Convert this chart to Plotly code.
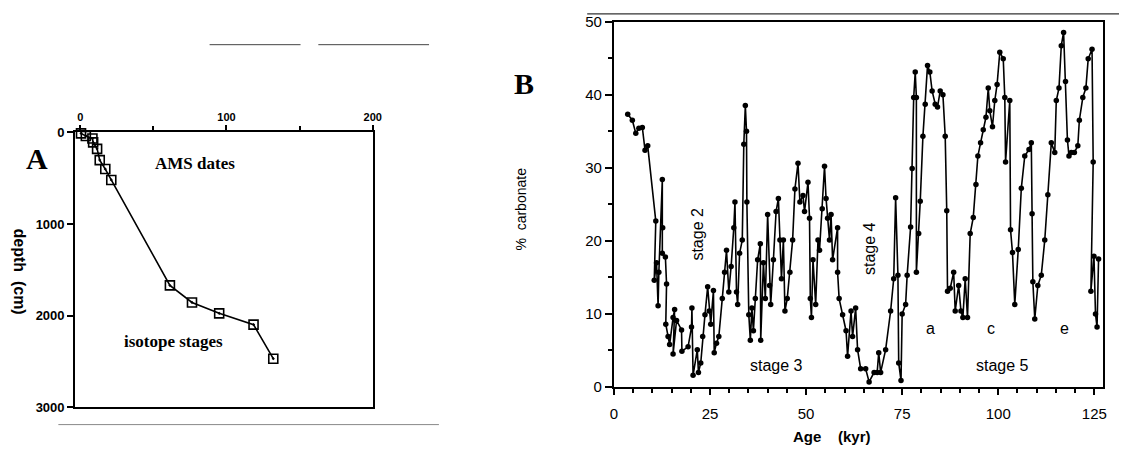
import plotly.graph_objects as go

W, H = 1128, 476

# ---------------- Panel A data: age (kyr) vs depth (cm) ----------------
age_A = [0.5, 3.8, 8.3, 8.8, 11.5, 13.3, 17.1, 21.2, 61.3, 76.4, 95.0, 118.5, 132.0]
depth_A = [10, 39, 67, 109, 179, 302, 400, 519, 1670, 1856, 1975, 2098, 2470]
xticks_A = [0, 100, 200]
yticks_A = [0, 1000, 2000, 3000]

# ---------------- Panel B data: age (kyr) vs % carbonate ----------------
age_B = [3.6, 4.8, 5.7, 6.5, 7.4, 8.1, 8.8, 10.9, 10.5, 11.1, 11.5, 11.7, 12.6, 12.7, 12.6, 13.4,
         13.7, 13.5, 14.1, 14.5, 15.4, 15.8, 15.4, 16.3, 17.6, 17.7, 19.3, 20.2, 20.3, 20.6,
         21.7, 22.0,
         22.6, 23.1, 23.7, 24.4, 24.8, 25.2, 25.9, 26.1, 26.7, 27.3,
         28.2, 28.8, 29.3, 29.9, 30.5, 31.2, 31.5, 31.9, 32.2, 32.7,
         33.4, 33.8, 34.2, 34.5, 34.6, 35.1, 35.5, 35.9, 36.3, 36.8,
         37.4, 38.1, 38.2, 38.9, 39.4, 40.0, 40.5, 40.8, 41.5, 42.2,
         42.8, 43.2, 43.6, 44.1, 44.5, 45.1, 45.8, 46.5, 47.1, 47.9,
         48.4, 49.2, 49.6, 50.5, 50.9, 51.1, 51.4, 51.8, 52.5, 53.1,
         53.5, 54.2, 54.8, 55.2, 55.6, 56.1, 56.5, 56.9, 58.2, 58.2,
         58.6, 59.5, 60.4, 60.8, 61.7, 62.1, 62.9, 63.4, 64.2, 65.5,
         66.4, 67.7, 68.5, 68.9, 69.4, 70.7,
         72.0, 72.8, 73.3, 73.9, 74.1, 74.7, 75.0, 75.9, 76.3, 77.2, 77.6, 78.0,
         78.4, 78.7, 78.7, 79.3, 79.7, 80.4, 81.0, 81.6, 82.2, 82.8, 83.6, 84.2, 84.9, 85.6,
         86.2, 86.6, 86.8, 87.5, 88.4, 88.8, 89.7, 90.3, 90.8, 91.4, 92.0, 92.7, 93.5, 94.2,
         94.7, 95.4, 96.1, 96.8, 97.4, 97.8, 98.5, 99.1, 99.7, 100.4, 101.3, 101.7, 101.9,
         103.0, 103.2, 103.7, 104.3, 105.2, 106.0, 106.9, 108.0, 108.6, 108.8, 109.0, 109.5,
         110.3, 111.2, 112.1, 112.9, 113.8, 114.7, 115.1, 115.8, 116.4, 117.0, 117.5, 118.0,
         118.4, 119.0, 119.8, 120.7, 121.1, 122.0, 122.8, 123.4, 124.4, 124.7, 124.1, 124.9,
         125.3, 125.7, 126.1]
carb_B = [37.3, 36.5, 34.7, 35.4, 35.5, 32.4, 33.0, 22.7, 14.6, 17.0, 11.1, 15.7, 28.4, 21.8, 18.3, 17.8,
          14.1, 8.6, 6.9, 5.8, 9.5, 10.6, 4.5, 9.1, 7.8, 4.9, 5.5, 8.2, 10.8, 1.6,
          5.1, 2.0,
          3.3, 6.9, 9.9, 13.7, 10.4, 8.6, 13.2, 4.7, 6.0, 6.9,
          12.1, 15.7, 18.7, 13.0, 16.5, 21.8, 25.3, 13.0, 11.3, 18.3,
          20.1, 33.2, 38.5, 35.0, 25.3, 9.9, 6.4, 10.8, 7.7, 12.1,
          17.4, 19.6, 6.4, 17.0, 12.1, 23.6, 13.9, 11.3, 17.4, 24.0,
          25.8, 20.1, 14.8, 20.1, 10.4, 12.1, 15.7, 20.1, 27.1, 30.6,
          25.3, 26.2, 24.0, 28.0, 23.1, 12.1, 9.5, 17.4, 11.3, 20.1,
          18.7, 24.4, 30.2, 25.8, 23.1, 20.1, 23.6, 17.4, 21.8, 15.7,
          12.1, 9.9, 7.7, 4.2, 10.4, 6.9, 10.8, 5.1, 2.5, 2.5,
          0.7, 2.0, 2.0, 4.7, 2.0, 5.1,
          10.4, 14.8, 25.9, 15.3, 3.3, 0.9, 10.0, 11.3, 15.3, 21.9, 29.9, 39.6,
          43.1, 39.6, 15.7, 21.0, 25.4, 34.3, 38.7, 44.0, 43.1, 40.5, 38.7, 38.3, 40.5, 40.0,
          34.3, 24.1, 13.1, 13.5, 15.7, 10.4, 13.9, 10.4, 9.5, 14.8, 9.5, 21.0, 23.2, 27.7,
          31.6, 33.4, 35.2, 36.9, 40.9, 37.8, 35.6, 39.2, 41.4, 45.8, 44.9, 39.6, 30.8,
          39.2, 21.5, 18.4, 11.3, 18.8, 27.2, 31.6, 32.5, 33.4, 23.7, 14.4, 9.3,
          13.9, 15.3, 20.1, 26.3, 33.4, 32.1, 39.2, 40.9, 46.7, 48.5, 41.8, 33.8,
          31.6, 32.1, 32.1, 33.0, 36.5, 39.6, 40.9, 44.9, 46.2, 30.8, 13.1, 17.9,
          10.0, 8.2, 17.5]
xticks_B = [0, 25, 50, 75, 100, 125]
yticks_B = [0, 10, 20, 30, 40, 50]


def px(x):
    return x / W


def py(y):
    return 1 - y / H


fig = go.Figure()

fig.add_trace(go.Scatter(
    x=age_A, y=depth_A, mode="lines+markers", xaxis="x", yaxis="y",
    line=dict(color="black", width=1.6),
    marker=dict(symbol="square-open-dot", size=9, color="black", line=dict(width=1.6)),
    showlegend=False, cliponaxis=False))

fig.add_trace(go.Scatter(
    x=age_B, y=carb_B, mode="lines+markers", xaxis="x2", yaxis="y2",
    line=dict(color="black", width=1.6),
    marker=dict(symbol="circle", size=5.5, color="black"),
    showlegend=False, cliponaxis=False))

axis_common = dict(showgrid=False, zeroline=False, showline=True, linecolor="black",
                   mirror=True, ticks="outside", tickcolor="black")

fig.update_layout(
    width=W, height=H, autosize=False,
    margin=dict(l=0, r=0, t=0, b=0),
    paper_bgcolor="white", plot_bgcolor="white",
    xaxis=dict(axis_common, domain=[px(72), px(373)], range=[-3.5, 200], side="top",
               anchor="y", tickvals=xticks_A, linewidth=2, ticklen=5, tickwidth=1.5,
               tickfont=dict(family="Liberation Sans", size=11, color="black", weight="bold"),
               minor=dict(tickvals=[50, 150], ticklen=4, ticks="outside", tickcolor="black")),
    yaxis=dict(axis_common, domain=[py(413), py(128)], range=[3000, 0], anchor="x",
               tickvals=yticks_A, linewidth=2, ticklen=6, tickwidth=1.5,
               tickfont=dict(family="Liberation Sans", size=13, color="black", weight="bold")),
    xaxis2=dict(axis_common, domain=[px(617), px(1112)], range=[0, 127.3], anchor="y2",
                tickvals=xticks_B, linewidth=2, ticklen=6, tickwidth=1.5, ticklabelstandoff=6,
                tickfont=dict(family="Liberation Sans", size=15, color="black"),
                minor=dict(dtick=5, ticklen=4, ticks="outside", tickcolor="black")),
    yaxis2=dict(axis_common, domain=[py(392), py(13)], range=[0, 50], anchor="x2",
                tickvals=yticks_B, linewidth=2, ticklen=7, tickwidth=1.5,
                tickfont=dict(family="Liberation Sans", size=15, color="black"),
                minor=dict(dtick=5, ticklen=4, ticks="outside", tickcolor="black")),
)

serif_b = dict(family="Liberation Serif", color="black", weight="bold")
sans = dict(family="Liberation Sans", color="black")

ann = [
    dict(text="A", x=px(33), y=py(155), font=dict(serif_b, size=30)),
    dict(text="B", x=px(526), y=py(77), font=dict(serif_b, size=30)),
    dict(text="AMS dates", x=px(193), y=py(160), font=dict(serif_b, size=17)),
    dict(text="isotope stages", x=px(171), y=py(345), font=dict(serif_b, size=17)),
    dict(text="depth\u00a0\u00a0(cm)", x=px(16), y=py(272), textangle=90,
         font=dict(family="Liberation Sans", color="black", weight="bold", size=16)),
    dict(text="%\u00a0\u00a0carbonate", x=px(523), y=py(207), textangle=-90, font=dict(sans, size=14)),
    dict(text="Age\u00a0\u00a0\u00a0\u00a0(kyr)", x=px(838), y=py(443),
         font=dict(family="Liberation Sans", color="black", weight="bold", size=15)),
    dict(text="stage 2", x=px(702), y=py(233), textangle=-90, font=dict(sans, size=16)),
    dict(text="stage 4", x=px(875), y=py(248), textangle=-90, font=dict(sans, size=16)),
    dict(text="stage 3", x=px(782), y=py(370), font=dict(sans, size=16)),
    dict(text="stage 5", x=px(1010), y=py(370), font=dict(sans, size=16)),
    dict(text="a", x=px(937), y=py(331), font=dict(sans, size=16)),
    dict(text="c", x=px(999), y=py(331), font=dict(sans, size=16)),
    dict(text="e", x=px(1073), y=py(331), font=dict(sans, size=16)),
]
for a in ann:
    a.update(xref="paper", yref="paper", showarrow=False, xanchor="center", yanchor="middle")
fig.update_layout(annotations=ann)

# faint scan-edge lines of the original page
shapes = [
    dict(x0=px(208), x1=px(300), y0=py(37), y1=py(37), color="#444", w=1),
    dict(x0=px(318), x1=px(430), y0=py(37), y1=py(37), color="#444", w=1),
    dict(x0=px(55), x1=px(440), y0=py(431), y1=py(431), color="#888", w=1),
    dict(x0=px(590), x1=px(1128), y0=py(5), y1=py(5), color="#333", w=1.2),
]
for s in shapes:
    fig.add_shape(type="line", xref="paper", yref="paper", x0=s["x0"], x1=s["x1"],
                  y0=s["y0"], y1=s["y1"], line=dict(color=s["color"], width=s["w"]))

fig.write_html("out.html")
